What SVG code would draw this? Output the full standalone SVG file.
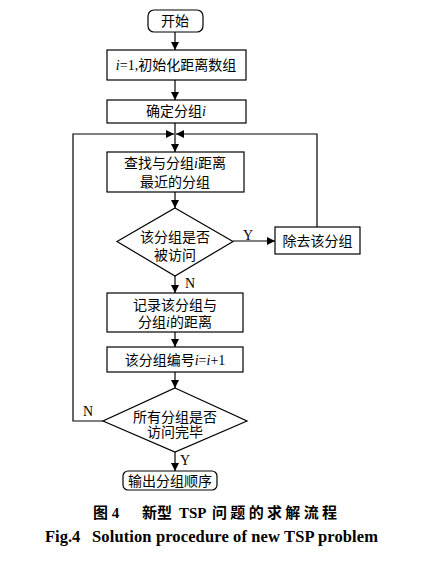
<svg xmlns="http://www.w3.org/2000/svg" width="428" height="567" viewBox="0 0 428 567">
<defs>
<marker id="ah" viewBox="0 0 10 10" refX="10" refY="5" markerWidth="8" markerHeight="8" markerUnits="userSpaceOnUse" orient="auto">
<path d="M0,0 L10,5 L0,10 z" fill="#000"/>
</marker>
</defs>
<style>
.n{fill:#fff;stroke:#000;stroke-width:1.2}
.t{font-family:"Liberation Serif","Noto Sans CJK SC",serif;font-size:14px;fill:#000;text-anchor:middle}
.l{font-family:"Liberation Serif","Noto Sans CJK SC",serif;font-size:14px;fill:#000}
.c{fill:none;stroke:#000;stroke-width:1.2}
.a{marker-end:url(#ah)}
.cap{font-family:"Liberation Serif","Noto Sans CJK SC",serif;font-weight:bold;font-size:15px;fill:#000}
.cap2{font-family:"Liberation Serif","Noto Sans CJK SC",serif;font-weight:bold;font-size:16.5px;fill:#000}
</style>
<rect width="428" height="567" fill="#fff"/>
<g id="connectors">
<line class="c a" x1="175" y1="32" x2="175" y2="50"/>
<line class="c a" x1="175" y1="80" x2="175" y2="100"/>
<line class="c" x1="175" y1="123" x2="175" y2="134"/>
<line class="c a" x1="175" y1="134" x2="175" y2="152"/>
<line class="c a" x1="175" y1="192" x2="175" y2="208"/>
<line class="c a" x1="233" y1="241" x2="275" y2="241"/>
<polyline class="c a" points="317,227 317,134 176,134"/>
<line class="c a" x1="175" y1="276" x2="175" y2="293"/>
<line class="c a" x1="175" y1="332" x2="175" y2="347"/>
<line class="c a" x1="175" y1="372" x2="175" y2="388"/>
<polyline class="c a" points="103,421 73,421 73,134 174,134"/>
<line class="c a" x1="175" y1="452" x2="175" y2="471"/>
<text class="l" x="243" y="240">Y</text>
<text class="l" x="185" y="288">N</text>
<text class="l" x="83" y="416">N</text>
<text class="l" x="180" y="465">Y</text>
</g>
<g id="start">
<rect class="n" x="148" y="10" width="55" height="22" rx="6"/>
<text class="t" x="175" y="26">开始</text>
</g>
<g id="init">
<rect class="n" x="107" y="50" width="139" height="30"/>
<text class="t" x="176" y="70"><tspan font-style="italic">i</tspan>=1,初始化距离数组</text>
</g>
<g id="determine">
<rect class="n" x="107" y="100" width="139" height="23"/>
<text class="t" x="176" y="116">确定分组<tspan font-style="italic">i</tspan></text>
</g>
<g id="find">
<rect class="n" x="107" y="152" width="137" height="40"/>
<text class="t" x="175" y="168">查找与分组<tspan font-style="italic">i</tspan>距离</text>
<text class="t" x="175" y="187">最近的分组</text>
</g>
<g id="visited">
<polygon class="n" points="175,208 233,241.5 175,276 117,241.5"/>
<text class="t" x="175" y="241.5">该分组是否</text>
<text class="t" x="175" y="260">被访问</text>
</g>
<g id="remove">
<rect class="n" x="275" y="227" width="85" height="27"/>
<text class="t" x="317.5" y="245.5">除去该分组</text>
</g>
<g id="record">
<rect class="n" x="107" y="293" width="136" height="39"/>
<text class="t" x="175" y="310">记录该分组与</text>
<text class="t" x="175" y="327">分组<tspan font-style="italic">i</tspan>的距离</text>
</g>
<g id="increment">
<rect class="n" x="107" y="347" width="136" height="25"/>
<text class="t" x="175" y="365">该分组编号<tspan font-style="italic">i</tspan>=<tspan font-style="italic">i</tspan>+1</text>
</g>
<g id="alldone">
<polygon class="n" points="175,388 247,421 175,452 103,421"/>
<text class="t" x="175" y="421.5">所有分组是否</text>
<text class="t" x="175" y="437">访问完毕</text>
</g>
<g id="output">
<rect class="n" x="123" y="471" width="94" height="19" rx="5"/>
<text class="t" x="170" y="485.5">输出分组顺序</text>
</g>
<g id="caption">
<text class="cap" x="93" y="518">图 4</text>
<text class="cap" y="518"><tspan x="142">新型</tspan><tspan x="179">TSP</tspan><tspan x="212" textLength="125" lengthAdjust="spacing">问题的求解流程</tspan></text>
<text class="cap2" x="45" y="542">Fig.4</text>
<text class="cap2" x="92" y="542" textLength="286" lengthAdjust="spacing">Solution procedure of new TSP problem</text>
</g>
</svg>
